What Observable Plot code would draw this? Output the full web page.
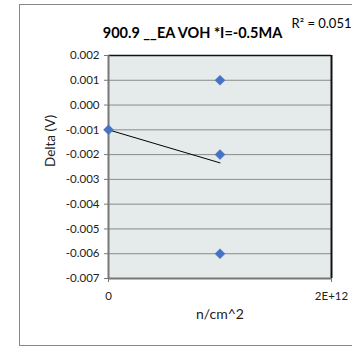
<!DOCTYPE html>
<html>
<head>
<meta charset="utf-8">
<script src="https://cdn.jsdelivr.net/npm/d3@7"></script>
<script src="https://cdn.jsdelivr.net/npm/@observablehq/plot@0.6"></script>
<style>
  html, body { margin: 0; padding: 0; background: #fff; overflow: hidden; }
  #chart { position: relative; width: 352px; height: 347px; }
</style>
</head>
<body>
<div id="chart"></div>
<script>
const fluence = [0, 1e12, 1e12, 1e12];
const delta = [-0.001, 0.001, -0.002, -0.006];
const trendX = [0, 1e12];
const trendY = [-0.001, -0.0023333];
const yTicks = [0.002, 0.001, 0, -0.001, -0.002, -0.003, -0.004, -0.005, -0.006, -0.007];
const xTicks = [0, 2e12];
const xTickLabels = ["0", "2E+12"];
const title = "900.9 __EA VOH *I=-0.5MA";
const r2Label = "R² = 0.051";
const xLabel = "n/cm^2";
const yLabel = "Delta (V)";

const points = fluence.map((x, i) => ({x, y: delta[i]}));
const trend = trendX.map((x, i) => ({x, y: trendY[i]}));
const font = "Lato, 'Open Sans', sans-serif";
const yFmt = d => d3.format(".3f")(d).replace("−", "-");
const xFmt = d => xTickLabels[xTicks.indexOf(d)];

const chart = Plot.plot({
  width: 352,
  height: 347,
  marginLeft: 108,
  marginRight: 21,
  marginTop: 55,
  marginBottom: 69,
  style: {fontFamily: font, fontSize: "11.5px", color: "#222", background: "transparent"},
  x: {domain: [0, 2e12], label: null},
  y: {domain: [-0.007, 0.002], label: null},
  marks: [
    Plot.frame({fill: "#E5EBEB"}),
    Plot.gridY(yTicks, {stroke: "#8a8a8a", strokeOpacity: 1, strokeWidth: 1}),
    Plot.ruleY([0.002], {stroke: "#111", strokeWidth: 1.5}),
    Plot.ruleX([2e12], {stroke: "#111", strokeWidth: 2}),
    Plot.ruleX([0], {stroke: "#777", strokeWidth: 2}),
    Plot.ruleY([-0.007], {stroke: "#777", strokeWidth: 2}),
    Plot.line(trend, {x: "x", y: "y", stroke: "#000", strokeWidth: 1}),
    Plot.dot(points, {x: "x", y: "y", symbol: "diamond2", r: 4.5, fill: "#4472C4", stroke: "#4472C4", strokeWidth: 0.5}),
    Plot.axisY({ticks: yTicks, tickFormat: yFmt, tickSize: 4, tickPadding: 5, stroke: "#777", fontSize: 11.5, fill: "#222"}),
    Plot.axisX({ticks: xTicks, tickFormat: xFmt, tickSize: 4, tickPadding: 9, stroke: "#777", fontSize: 11.5, fill: "#222"}),
    Plot.text([title], {frameAnchor: "top", dy: -27.5, dx: -27.5, text: d => d, fontWeight: "bold", fontSize: 14.5, fill: "#000"}),
    Plot.text([r2Label], {frameAnchor: "top-right", dy: -36.5, dx: 20, textAnchor: "end", text: d => d, fontSize: 13, fill: "#000"}),
    Plot.text([xLabel], {frameAnchor: "bottom", dy: 40, text: d => d, fontSize: 14, fill: "#222"}),
    Plot.text([yLabel], {frameAnchor: "left", dx: -58, dy: 0, rotate: -90, text: d => d, fontSize: 13.5, fill: "#222"})
  ]
});
document.getElementById("chart").appendChild(chart);
d3.select(chart).insert("rect", ":first-child")
  .attr("x", 19.5).attr("y", 4.5).attr("width", 340).attr("height", 341)
  .attr("fill", "#fff").attr("stroke", "#888").attr("stroke-width", 1);
</script>
</body>
</html>
